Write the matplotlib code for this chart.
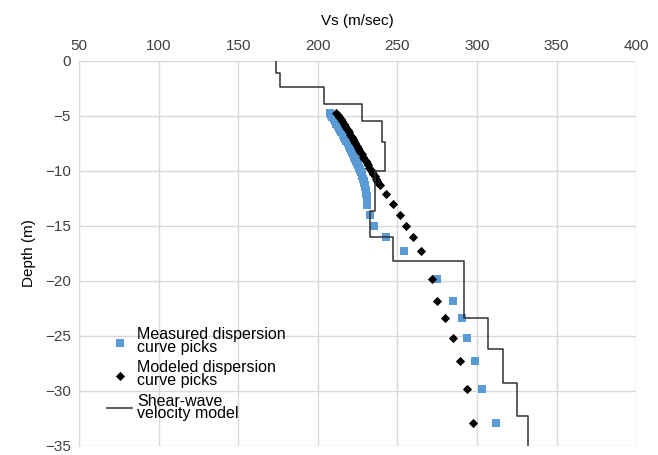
import numpy as np
import matplotlib
matplotlib.use("Agg")
import matplotlib.pyplot as plt

# layered shear-wave velocity model (layer bottoms in m, velocity in m/s)
layer_bottom = [-1.1, -2.4, -3.9, -5.5, -7.4, -10.0, -13.6, -16.0, -18.2,
                -23.4, -26.2, -29.3, -32.3, -35.0]
layer_vs = [173.6, 176.0, 204.0, 227.5, 240.0, 242.0, 236.0, 233.0, 247.0,
            291.5, 306.6, 316.0, 325.4, 332.3]

# measured dispersion curve picks (depth m, Vs m/s)
meas_depth = [-4.7, -4.9, -5.1, -5.3, -5.5, -5.7, -5.9, -6.1, -6.3, -6.5,
              -6.7, -6.9, -7.1, -7.3, -7.5, -7.7, -7.9, -8.1, -8.3, -8.5,
              -8.7, -8.9, -9.1, -9.3, -9.5, -9.7, -9.9, -10.1, -10.3, -10.5,
              -10.7, -10.9, -11.1, -11.3, -11.5, -11.7, -11.9, -12.1, -12.3,
              -12.5, -12.7, -12.9, -13.1,
              -14.0, -15.0, -16.0, -17.3, -19.8, -21.8, -23.4, -25.2, -27.3,
              -29.8, -32.9]
meas_vs = [207.5, 208.5, 209.2, 210.0, 210.8, 211.6, 212.4, 213.2, 214.0, 214.8,
           215.6, 216.4, 217.2, 218.0, 218.8, 219.6, 220.3, 221.0, 221.7, 222.4,
           223.0, 223.6, 224.2, 224.8, 225.4, 226.0, 226.5, 227.0, 227.5, 228.0,
           228.4, 228.8, 229.1, 229.4, 229.7, 230.0, 230.2, 230.4, 230.6,
           230.8, 231.0, 231.1, 231.2,
           233.0, 235.5, 243.0, 254.0, 275.0, 284.6, 290.3, 293.4, 298.4,
           302.8, 311.6]

# modeled dispersion curve picks
mod_depth = [-4.7, -4.9, -5.1, -5.3, -5.5, -5.7, -5.9, -6.1, -6.3, -6.5,
             -6.7, -6.9, -7.1, -7.3, -7.5, -7.7, -7.9, -8.1, -8.3, -8.5,
             -8.7, -8.9, -9.1, -9.3, -9.5, -9.7, -9.9, -10.1, -10.3, -10.5,
             -10.7, -10.9, -11.1, -11.3,
             -12.1, -13.0, -14.0, -15.0, -16.0, -17.3, -19.8, -21.8, -23.4,
             -25.2, -27.3, -29.8, -32.9]
mod_vs = [211.5, 212.6, 213.6, 214.5, 215.4, 216.3, 217.2, 218.0, 218.8, 219.6,
          220.4, 221.2, 222.0, 222.8, 223.6, 224.4, 225.2, 226.0, 226.8, 227.6,
          228.4, 229.2, 230.0, 230.8, 231.6, 232.4, 233.2, 234.0, 234.8, 235.6,
          236.4, 237.2, 238.0, 238.8,
          243.0, 247.5, 251.5, 255.5, 260.0, 265.0, 272.0, 274.6, 279.6,
          284.6, 289.0, 293.4, 297.2]

plt.rcParams["font.family"] = ["Liberation Sans", "DejaVu Sans"]
plt.rcParams["font.size"] = 11

fig = plt.figure(figsize=(6.58, 4.55), dpi=100)
ax = fig.add_axes([0.120, 0.02, 0.847, 0.846])

# step profile built from the layer table
tops = [0.0] + layer_bottom[:-1]
step_y = np.ravel(list(zip(tops, layer_bottom)))
step_x = np.repeat(layer_vs, 2)

ax.scatter(meas_vs, meas_depth, marker="s", s=28, color="#5b9bd5",
           linewidths=0, label="Measured dispersion\ncurve picks", zorder=3)
ax.scatter(mod_vs, mod_depth, marker="D", s=22, color="black",
           linewidths=0, label="Modeled dispersion\ncurve picks", zorder=4)
ax.plot(step_x, step_y, color="#303030", linewidth=1.1,
        label="Shear-wave\nvelocity model", zorder=5)

ax.set_xlim(50, 400)
ax.set_ylim(-35, 0)
ax.set_xticks(np.arange(50, 401, 50))
ax.set_yticks(np.arange(-35, 1, 5))
ax.xaxis.tick_top()
ax.xaxis.set_label_position("top")
ax.set_xlabel("Vs (m/sec)", labelpad=10)
ax.set_ylabel("Depth (m)", labelpad=6)
ax.tick_params(length=0, pad=6, colors="#404040")
ax.grid(True, color="#d9d9d9", linewidth=1.0)
ax.set_axisbelow(True)
for side in ["top", "right", "bottom"]:
    ax.spines[side].set_visible(False)
ax.spines["left"].set_color("#d9d9d9")

leg = ax.legend(loc="lower left", bbox_to_anchor=(0.03, 0.035), frameon=False,
                fontsize=11.5, handlelength=1.6, handletextpad=0.3,
                labelspacing=0.35, borderpad=0.2)
for t in leg.get_texts():
    t.set_linespacing(0.8)

fig.savefig("out.png", dpi=100)
